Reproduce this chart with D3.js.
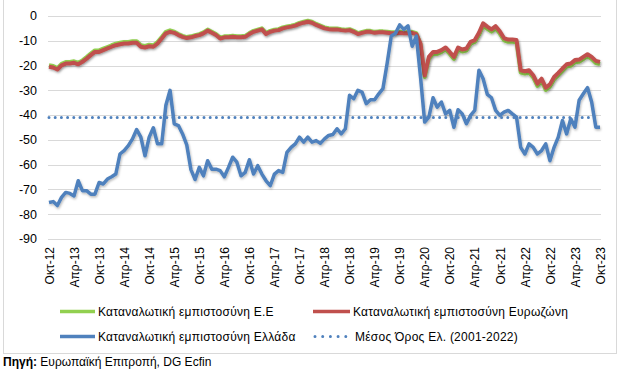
<!DOCTYPE html>
<html>
<head>
<meta charset="utf-8">
<script src="https://cdn.jsdelivr.net/npm/d3@7"></script>
<style>
  body { margin: 0; background: #fff; }
  svg { display: block; font-family: "Liberation Sans", Arial, sans-serif; }
</style>
</head>
<body>
<svg id="chart" width="618" height="370"></svg>
<script>
// κατηγορίες: μήνες Οκτ-12 ... Οκτ-23
const months = d3.timeMonth.range(new Date(2012, 9, 1), new Date(2023, 10, 1));
const tickLabels = ["Οκτ-12", "Απρ-13", "Οκτ-13", "Απρ-14", "Οκτ-14", "Απρ-15", "Οκτ-15", "Απρ-16",
  "Οκτ-16", "Απρ-17", "Οκτ-17", "Απρ-18", "Οκτ-18", "Απρ-19", "Οκτ-19", "Απρ-20", "Οκτ-20",
  "Απρ-21", "Οκτ-21", "Απρ-22", "Οκτ-22", "Απρ-23", "Οκτ-23"];
const yTicks = [0, -10, -20, -30, -40, -50, -60, -70, -80, -90];

// Καταναλωτική εμπιστοσύνη Ευρωζώνη
const euroArea = [
  -20.5, -20.8, -21.6, -19.9, -19.2, -19.2, -18.9, -19.5, -18.5, -17.2, -15.8, -14.5,
  -14.5, -13.8, -13.1, -12.4, -11.8, -11.4, -11.1, -11.1, -10.8, -10.8, -12.4, -12.7,
  -12.2, -12.4, -11.1, -9.1, -7.0, -6.4, -6.8, -7.7, -8.4, -8.9, -8.6, -8.1,
  -7.7, -7.0, -5.9, -6.8, -7.7, -9.1, -8.6, -8.6, -8.4, -8.6, -8.6, -8.4,
  -7.3, -6.4, -5.9, -5.4, -7.3, -6.4, -5.9, -5.7, -5.0, -4.6, -4.3, -3.9,
  -3.2, -2.7, -2.3, -2.7, -3.6, -4.3, -5.0, -5.3, -5.4, -5.4, -5.7, -5.9,
  -5.7, -6.4, -7.3, -6.8, -6.4, -6.4, -6.8, -6.6, -6.6, -6.8, -7.0, -7.0,
  -6.8, -7.0, -7.0, -6.8, -7.3, -11.1, -24.0, -16.5, -14.5, -14.5, -13.8, -12.7,
  -14.5, -16.5, -12.7, -13.5, -13.1, -10.4, -9.7, -6.8, -3.0, -4.3, -5.4, -4.1,
  -6.2, -8.9, -9.5, -9.5, -9.7, -21.9, -22.3, -21.9, -23.9, -27.3, -25.3, -28.9,
  -27.6, -24.6, -23.0, -21.2, -19.5, -19.2, -17.8, -17.6, -16.5, -15.4, -16.5, -18.1,
  -18.5
];

// Καταναλωτική εμπιστοσύνη Ε.Ε
const eu = [
  -19.9, -20.2, -21.0, -19.3, -18.6, -18.6, -18.3, -18.9, -17.9, -16.6, -15.2, -13.9,
  -13.9, -13.2, -12.5, -11.8, -11.2, -10.8, -10.5, -10.5, -10.2, -10.2, -11.8, -12.1,
  -11.6, -11.8, -10.5, -8.5, -6.4, -5.8, -6.3, -7.3, -8.0, -8.5, -8.2, -7.7,
  -7.3, -6.6, -5.5, -6.4, -7.3, -8.7, -8.2, -8.2, -8.0, -8.2, -8.2, -8.0,
  -6.9, -6.0, -5.5, -5.0, -6.9, -6.0, -5.5, -5.3, -4.6, -4.2, -3.9, -3.5,
  -2.8, -2.3, -1.9, -2.3, -3.2, -3.9, -4.6, -4.9, -5.0, -5.0, -5.3, -5.5,
  -5.3, -6.0, -6.9, -6.4, -6.0, -6.0, -6.4, -6.2, -6.2, -6.4, -6.6, -6.6,
  -6.4, -6.6, -6.6, -6.4, -6.9, -11.5, -24.6, -17.2, -15.3, -15.3, -14.6, -13.5,
  -15.3, -17.3, -13.5, -14.3, -13.9, -11.2, -10.5, -7.6, -3.9, -5.2, -6.3, -5.0,
  -7.1, -9.8, -10.4, -10.4, -10.6, -22.8, -23.2, -22.8, -24.8, -28.2, -26.2, -29.8,
  -28.5, -25.5, -23.9, -22.1, -20.4, -20.1, -18.7, -18.5, -17.4, -16.3, -17.4, -19.0,
  -19.4
];

// Καταναλωτική εμπιστοσύνη Ελλάδα
const greece = [
  -75.3, -74.9, -76.5, -73.2, -71.2, -71.6, -72.6, -66.5, -70.5, -70.5, -71.9, -71.9,
  -67.2, -67.8, -65.8, -64.9, -63.8, -55.7, -54.3, -52.3, -49.6, -45.8, -48.9, -56.4,
  -48.9, -45.1, -51.6, -51.6, -36.0, -30.0, -43.5, -44.2, -47.6, -52.0, -62.0, -66.0,
  -61.1, -64.5, -58.4, -61.8, -61.8, -62.4, -64.9, -61.1, -57.0, -59.0, -64.5, -63.1,
  -58.0, -63.8, -60.4, -63.8, -66.5, -68.5, -63.8, -62.4, -63.1, -55.0, -53.0, -51.6,
  -48.9, -50.9, -48.9, -50.9, -50.3, -51.4, -49.6, -48.2, -47.8, -45.5, -47.6, -45.5,
  -32.0, -33.4, -30.0, -30.7, -35.4, -33.8, -33.8, -31.4, -29.3, -19.2, -8.1, -7.0,
  -3.6, -5.4, -4.0, -12.2, -8.1, -24.6, -42.8, -40.8, -33.0, -36.8, -34.7, -39.5,
  -38.1, -44.9, -37.8, -39.5, -43.5, -40.1, -38.1, -21.9, -25.3, -31.6, -33.0, -38.1,
  -40.1, -38.8, -38.1, -39.5, -40.8, -53.0, -55.7, -51.6, -53.0, -55.7, -54.3, -51.6,
  -58.4, -53.0, -48.9, -42.2, -47.6, -41.5, -44.9, -34.0, -31.4, -28.9, -34.7, -44.9,
  -44.9
];

// Μέσος Όρος Ελλάδας (2001-2022)
const greeceAvg = -41;

const seriesNames = ["Καταναλωτική εμπιστοσύνη Ε.Ε", "Καταναλωτική εμπιστοσύνη Ευρωζώνη",
  "Καταναλωτική εμπιστοσύνη Ελλάδα", "Μέσος Όρος Ελ. (2001-2022)"];
const colors = ["#92d050", "#c0504d", "#4f81bd", "#4f81bd"];

const svg = d3.select("#chart");

const x = d3.scalePoint()
  .domain(d3.range(months.length))
  .range([49, 600]);
const y = d3.scaleLinear()
  .domain([-90, 0])
  .range([239, 16]);

// σκιά γραμμών όπως στο excel
const defs = svg.append("defs");
defs.append("filter")
  .attr("id", "shadow")
  .attr("x", "-5%").attr("y", "-5%").attr("width", "110%").attr("height", "120%")
  .append("feDropShadow")
  .attr("dx", 0.8).attr("dy", 1.5).attr("stdDeviation", 0.9)
  .attr("flood-color", "#000").attr("flood-opacity", 0.28);

// πλαίσιο
svg.append("rect")
  .attr("x", 3.5).attr("y", -5)
  .attr("width", 613).attr("height", 358.5)
  .attr("fill", "none")
  .attr("stroke", "#d9d9d9");

// οριζόντιες γραμμές πλέγματος
svg.append("g")
  .selectAll("line")
  .data(yTicks)
  .join("line")
  .attr("x1", 48).attr("x2", 601)
  .attr("y1", d => Math.round(y(d)) + 0.5)
  .attr("y2", d => Math.round(y(d)) + 0.5)
  .attr("stroke", "#d9d9d9")
  .attr("stroke-width", 1);

// άξονας y
svg.append("g")
  .selectAll("text")
  .data(yTicks)
  .join("text")
  .attr("x", 37)
  .attr("y", d => y(d))
  .attr("dy", "0.35em")
  .attr("text-anchor", "end")
  .attr("font-size", "12.5px")
  .attr("fill", "#000")
  .text(d => String(d));

// άξονας x
const tickIdx = d3.range(0, months.length, 6);
svg.append("g")
  .selectAll("text")
  .data(tickIdx)
  .join("text")
  .attr("transform", d => `translate(${x(d) + 0.5},247) rotate(-90)`)
  .attr("dy", "0.35em")
  .attr("text-anchor", "end")
  .attr("font-size", "12px")
  .attr("fill", "#000")
  .text((d, i) => tickLabels[i]);

const line = d3.line()
  .x((d, i) => x(i))
  .y(d => y(d));

svg.append("path")
  .datum(eu)
  .attr("d", line)
  .attr("fill", "none")
  .attr("stroke", colors[0])
  .attr("stroke-width", 4)
  .attr("stroke-linejoin", "round")
  .attr("filter", "url(#shadow)");

svg.append("path")
  .datum(euroArea)
  .attr("d", line)
  .attr("fill", "none")
  .attr("stroke", colors[1])
  .attr("stroke-width", 4)
  .attr("stroke-linejoin", "round")
  .attr("filter", "url(#shadow)");

svg.append("path")
  .datum(greece)
  .attr("d", line)
  .attr("fill", "none")
  .attr("stroke", colors[2])
  .attr("stroke-width", 3.5)
  .attr("stroke-linejoin", "round")
  .attr("filter", "url(#shadow)");

svg.append("line")
  .attr("x1", x(0)).attr("x2", x(months.length - 1))
  .attr("y1", y(greeceAvg)).attr("y2", y(greeceAvg))
  .attr("stroke", colors[3])
  .attr("stroke-width", 3)
  .attr("stroke-linecap", "round")
  .attr("stroke-dasharray", "0 6.2");

// υπόμνημα
const legend = [
  { x: 60, y: 311.5, w: 35, tx: 98, dotted: false },
  { x: 313, y: 311.5, w: 37, tx: 353, dotted: false },
  { x: 60, y: 336.5, w: 35, tx: 98, dotted: false },
  { x: 315, y: 336.5, w: 31, tx: 355, dotted: true }
];

legend.forEach((l, i) => {
  svg.append("line")
    .attr("x1", l.x).attr("x2", l.x + l.w)
    .attr("y1", l.y).attr("y2", l.y)
    .attr("stroke", colors[i])
    .attr("stroke-width", l.dotted ? 3 : 3.5)
    .attr("stroke-linecap", l.dotted ? "round" : "butt")
    .attr("stroke-dasharray", l.dotted ? "0 7.7" : null);
  svg.append("text")
    .attr("x", l.tx).attr("y", l.y)
    .attr("dy", "0.35em")
    .attr("font-size", "12px")
    .attr("letter-spacing", "0.25px")
    .attr("fill", "#000")
    .text(seriesNames[i]);
});

// πηγή
const src = svg.append("text")
  .attr("x", 3).attr("y", 366)
  .attr("font-size", "12px")
  .attr("fill", "#000");
src.append("tspan").attr("font-weight", "bold").text("Πηγή:");
src.append("tspan").text(" Ευρωπαϊκή Επιτροπή, DG Ecfin");
</script>
</body>
</html>
